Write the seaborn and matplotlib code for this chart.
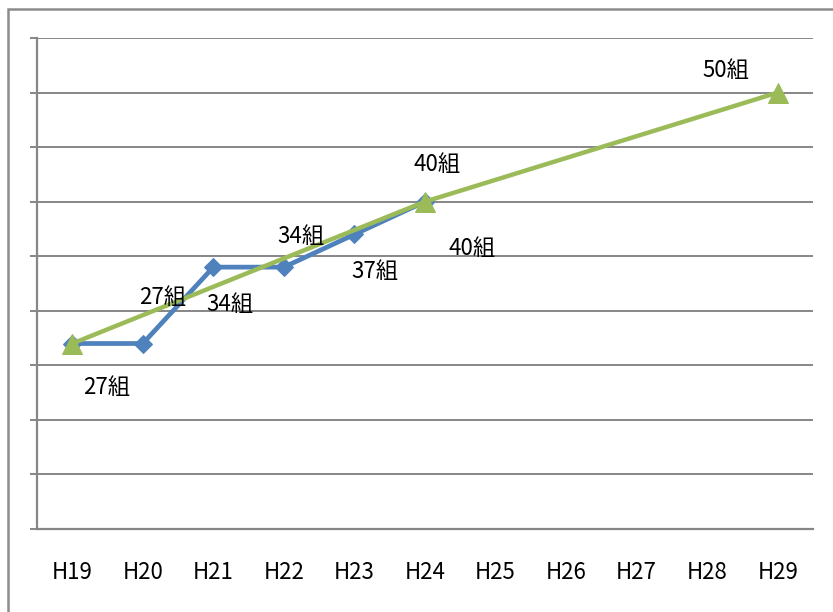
import matplotlib
matplotlib.use("Agg")
import matplotlib.pyplot as plt
import matplotlib.patches as patches
import numpy as np
import pandas as pd
import seaborn as sns

# 年度と組数
years = ["H19", "H20", "H21", "H22", "H23", "H24", "H25", "H26", "H27", "H28", "H29"]
actual = [27, 27, 34, 34, 37, 40, np.nan, np.nan, np.nan, np.nan, np.nan]
target = [27, np.nan, np.nan, np.nan, np.nan, 40, np.nan, np.nan, np.nan, np.nan, 50]

df = pd.DataFrame({"pos": range(len(years)), "year": years,
                   "actual": actual, "target": target})

sns.set_style("white")
plt.rcParams["font.family"] = ["Noto Sans CJK JP", "DejaVu Sans"]
plt.rcParams["text.color"] = "black"
plt.rcParams["xtick.color"] = "black"

GRAY = "#868686"
BLUE = "#4F81BD"
GREEN = "#9BBB59"

fig = plt.figure(figsize=(8.33, 6.12), dpi=100)
ax = fig.add_axes([37 / 833, 1 - 529 / 612, (813 - 37) / 833, (529 - 38) / 612])

d1 = df.dropna(subset=["actual"])
d2 = df.dropna(subset=["target"])
sns.lineplot(data=d1, x="pos", y="actual", ax=ax, color=BLUE, lw=3.4,
             marker="D", markersize=9.5, markeredgecolor=BLUE, sort=False)
sns.lineplot(data=d2, x="pos", y="target", ax=ax, color=GREEN, lw=3.2,
             marker="^", markersize=14, markeredgecolor=GREEN, sort=False)

# ラベル（オフセットは points）
blue_off = [(25, -32), (14, 33), (12, -27), (12, 22), (15, -27), (34, -34)]
for (i, r), off in zip(d1.iterrows(), blue_off):
    ax.annotate(f"{int(r['actual'])}組", (r["pos"], r["actual"]), xytext=off,
                textcoords="offset points", ha="center", va="center", fontsize=16)
green_off = {5: (9, 27), 10: (-37, 16)}
for i, r in d2.iterrows():
    if i in green_off:
        ax.annotate(f"{int(r['target'])}組", (r["pos"], r["target"]), xytext=green_off[i],
                    textcoords="offset points", ha="center", va="center", fontsize=16)

ax.set_xlim(-0.5, len(years) - 0.5)
ax.set_ylim(10, 55)
ax.set_xticks(range(len(years)))
ax.set_xticklabels(years, fontsize=16)
ax.set_xticks(np.arange(-0.5, len(years), 1), minor=True)
ax.set_yticks(np.arange(10, 56, 5))
ax.set_yticklabels([])
ax.set_xlabel("")
ax.set_ylabel("")

ax.tick_params(axis="x", which="major", length=0, pad=23)
ax.tick_params(axis="x", which="minor", length=5, width=1.4, color=GRAY, direction="out")
ax.tick_params(axis="y", length=5, width=1.4, color=GRAY, direction="out", left=True)
ax.grid(axis="y", color=GRAY, lw=1.4)
ax.set_axisbelow(True)
for s in ["top", "right"]:
    ax.spines[s].set_visible(False)
for s in ["left", "bottom"]:
    ax.spines[s].set_color(GRAY)
    ax.spines[s].set_linewidth(1.6)

# 外枠
frame = patches.Rectangle((8 / 833, -0.2), 1.2, 1.2 - 9 / 612, transform=fig.transFigure,
                          fill=False, edgecolor="#8c8c8c", lw=1.8, clip_on=False)
fig.patches.append(frame)

fig.savefig("out.png", dpi=100)
